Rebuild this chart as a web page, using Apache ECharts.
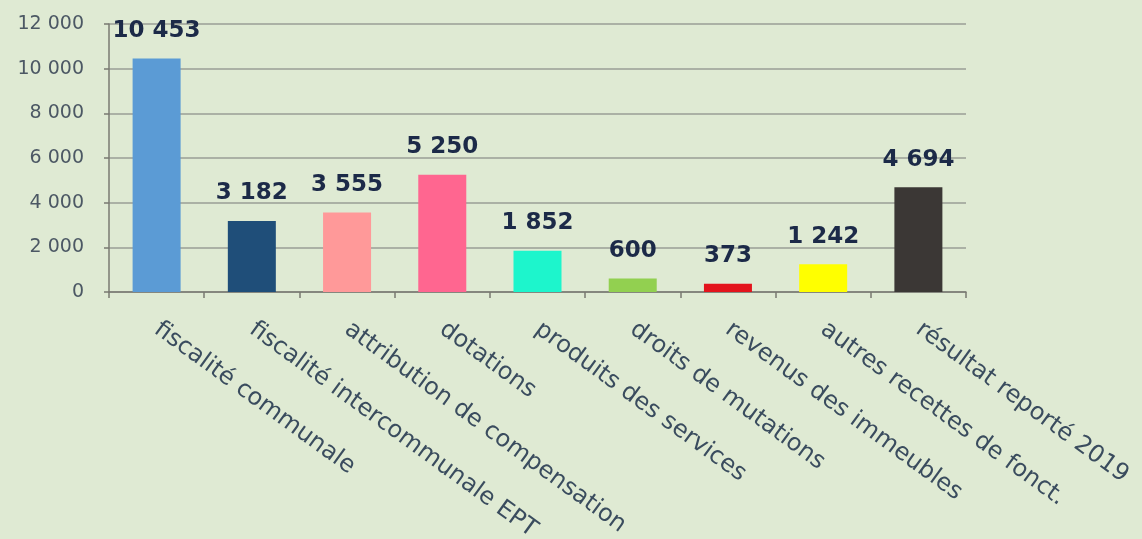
<!DOCTYPE html>
<html>
<head>
<meta charset="utf-8">
<script src="https://cdn.jsdelivr.net/npm/echarts@6/dist/echarts.min.js"></script>
<style>
  html, body { margin: 0; padding: 0; background: #dfead3; }
  #chart { width: 1142px; height: 539px; }
</style>
</head>
<body>
<div id="chart"></div>
<script>
// postes de recettes (k€)
var categories = [
  'fiscalité communale',
  'fiscalité intercommunale EPT',
  'attribution de compensation',
  'dotations',
  'produits des services',
  'droits de mutations',
  'revenus des immeubles',
  'autres recettes de fonct.',
  'résultat reporté 2019'
];
var values = [10453, 3182, 3555, 5250, 1852, 600, 373, 1242, 4694];
var barColors = ['#5b9bd5', '#1f4e79', '#ff9999', '#ff6690', '#1df5cc', '#92d050', '#e3141c', '#ffff00', '#3b3735'];

// espace comme séparateur de milliers
function fmt(v) {
  return String(v).replace(/\B(?=(\d{3})+(?!\d))/g, ' ');
}

var chart = echarts.init(document.getElementById('chart'));
chart.setOption({
  backgroundColor: '#dfead3',
  animation: false,
  textStyle: { fontFamily: 'DejaVu Sans' },
  grid: {
    left: 109, right: 176, top: 24, bottom: 247,
    containLabel: false,
    outerBoundsMode: 'none'
  },
  xAxis: {
    type: 'category',
    data: categories,
    axisLine: { lineStyle: { color: '#7a7a72', width: 1.5 } },
    axisTick: { show: true, length: 6, lineStyle: { color: '#7a7a72', width: 1.5 } },
    axisLabel: {
      rotate: -36,
      interval: 0,
      margin: 35,
      fontSize: 24,
      color: '#3a4c5e',
      fontFamily: 'DejaVu Sans'
    }
  },
  yAxis: {
    type: 'value',
    min: 0,
    max: 12000,
    interval: 2000,
    axisLine: { show: true, lineStyle: { color: '#7a7a72', width: 1.5 } },
    axisTick: { show: true, length: 5, lineStyle: { color: '#7a7a72', width: 1.5 } },
    splitLine: { lineStyle: { color: '#9a9e96', width: 1.5 } },
    axisLabel: {
      fontSize: 19,
      color: '#4c5864',
      margin: 25,
      formatter: fmt,
      fontFamily: 'DejaVu Sans'
    }
  },
  series: [{
    type: 'bar',
    barWidth: 48,
    data: values.map(function (v, i) {
      return { value: v, itemStyle: { color: barColors[i] } };
    }),
    label: {
      show: true,
      position: 'top',
      distance: 16,
      fontSize: 23,
      fontWeight: 'bold',
      color: '#1c2a48',
      fontFamily: 'DejaVu Sans',
      formatter: function (p) { return fmt(p.value); }
    }
  }]
});
</script>
</body>
</html>
